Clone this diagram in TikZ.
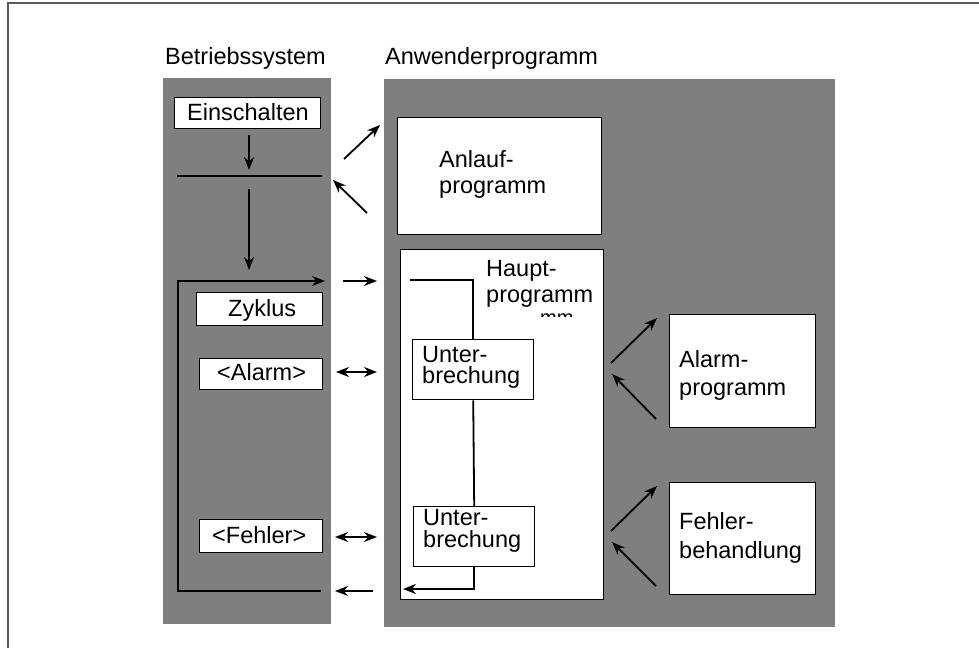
\documentclass[tikz,border=0pt]{standalone}
\usepackage{fontspec}
\setmainfont{Liberation Sans}
\usetikzlibrary{arrows.meta}
\definecolor{panelgray}{RGB}{127,127,127}
\definecolor{framegray}{RGB}{90,90,90}

\begin{document}
\begin{tikzpicture}[x=1pt,y=-1pt,
  box/.style={draw=black, fill=white, line width=1.4pt, inner sep=0pt, anchor=north west},
  lbl/.style={anchor=base west, inner sep=0pt, font=\fontsize{23.5}{28}\selectfont},
  two/.style={anchor=north west, inner sep=0pt, align=left,
              font=\fontsize{23.5}{#1}\selectfont},
  flow/.style={line width=1.8pt},
  tip/.tip={Stealth[length=13pt,width=10pt]},
  arr/.style={flow, -tip},
  darr/.style={flow, tip-tip},
]
\useasboundingbox (0,0) rectangle (979,648);

% outer frame
\draw[framegray, line width=1.2pt] (8,648) -- (8,3) -- (979,3);

% column headings
\node[lbl] (hOS)  at (165,64) {Betriebssystem};
\node[lbl] (hApp) at (385,64) {Anwenderprogramm};

% grey panels
\fill[panelgray] (163,78) rectangle (331,624);
\fill[panelgray] (384,79) rectangle (835,627);

% ---------- operating system column ----------
\node[box, minimum width=146pt, minimum height=31pt] (ein) at (174,97) {};
\node[lbl] (einT) at (187,120) {Einschalten};

\node[box, minimum width=126pt, minimum height=33pt] (zyk) at (196,292) {};
\node[lbl] (zykT) at (228,316) {Zyklus};

\node[box, minimum width=123pt, minimum height=31pt] (alm) at (199,358) {};
\node[lbl] (almT) at (217,380) {<Alarm>};

\node[box, minimum width=123pt, minimum height=33pt] (feh) at (199,519) {};
\node[lbl] (fehT) at (212,543) {<Fehler>};

% start-up synchronisation line
\coordinate (syncW) at (177,176);
\coordinate (syncE) at (322,176);
\draw[flow] (syncW) -- (syncE);
\coordinate (einEnd) at (249,170);
\draw[arr] (249,135) -- (einEnd);
\coordinate (downS) at (249,189);
\coordinate (downE) at (249,270);
\draw[arr] (downS) -- (downE);

% cycle loop
\coordinate (loopB) at (321,591);
\coordinate (loopT) at (325,281);
\draw[arr] (loopB) -- (178,591) -- (178,281) -- (loopT);

% ---------- arrows between columns ----------
\coordinate (a1s) at (344,159); \coordinate (a1e) at (380,125);
\coordinate (a2s) at (367,213); \coordinate (a2e) at (333,180);
\draw[arr] (a1s) -- (a1e);
\draw[arr] (a2s) -- (a2e);
\coordinate (c1s) at (343,281); \coordinate (c1e) at (377,281);
\draw[arr] (c1s) -- (c1e);
\coordinate (d1s) at (336,372); \coordinate (d1e) at (377,372);
\draw[darr] (d1s) -- (d1e);
\coordinate (d2s) at (335,537); \coordinate (d2e) at (377,537);
\draw[darr] (d2s) -- (d2e);
\coordinate (r1s) at (373,591); \coordinate (r1e) at (335,591);
\draw[arr] (r1s) -- (r1e);

% ---------- user program column ----------
\node[box, minimum width=204pt, minimum height=117pt] (anl) at (397,117) {};
\node[two=26] (anlT) at (439,150) {Anlauf-\\programm};

\node[box, minimum width=203pt, minimum height=350pt] (hpt) at (400,249) {};
\node[two=26] (hptT) at (486,260) {Haupt-\\programm};
\begin{scope}
  \clip (530,305) rectangle (590,316);
  \node[lbl, font=\fontsize{20}{24}\selectfont] (hptX) at (540,324) {mm};
\end{scope}

\node[box, minimum width=121pt, minimum height=60pt] (ub1) at (412,339) {};
\node[two=21.5] (ub1T) at (422,346) {Unter-\\brechung};

\node[box, minimum width=121pt, minimum height=60pt] (ub2) at (413,506) {};
\node[two=22] (ub2T) at (423,509) {Unter-\\brechung};

% main program flow
\coordinate (mainS) at (410,280);
\draw[flow] (mainS) -- (mainS -| ub1.north) -- (ub1.north);
\draw[flow] (ub1.south) -- (ub2.north);
\coordinate (mainE) at (403,589);
\draw[arr] (ub2.south) -- (ub2.south |- mainE) -- (mainE);

% alarm and error handlers
\node[box, minimum width=146pt, minimum height=113pt] (alp) at (669,314) {};
\node[two=28] (alpT) at (679,350) {Alarm-\\programm};

\node[box, minimum width=146pt, minimum height=112pt] (fbh) at (669,482) {};
\node[two=29] (fbhT) at (679,512) {Fehler-\\behandlung};

\coordinate (b1s) at (611,363); \coordinate (b1e) at (657,318);
\coordinate (b2s) at (656,419); \coordinate (b2e) at (612,374);
\draw[arr] (b1s) -- (b1e);
\draw[arr] (b2s) -- (b2e);
\coordinate (b3s) at (611,531); \coordinate (b3e) at (657,486);
\coordinate (b4s) at (656,586); \coordinate (b4e) at (612,542);
\draw[arr] (b3s) -- (b3e);
\draw[arr] (b4s) -- (b4e);
\end{tikzpicture}
\end{document}
